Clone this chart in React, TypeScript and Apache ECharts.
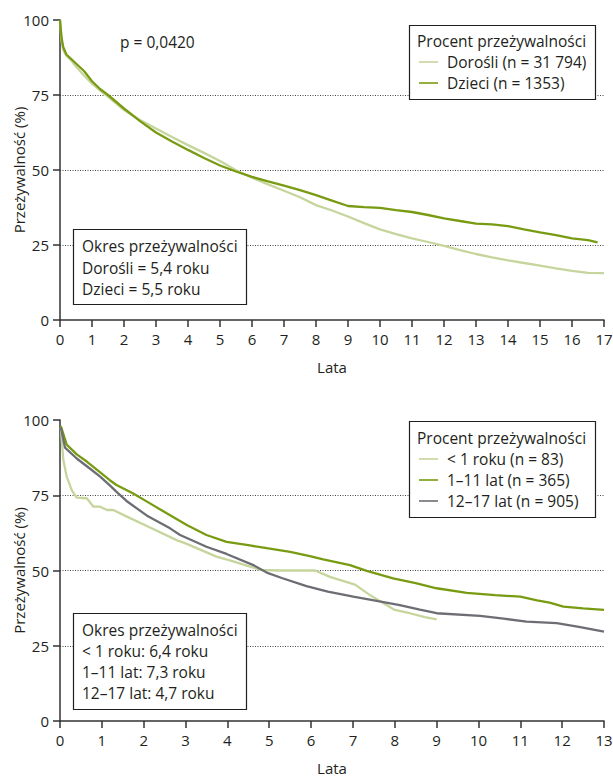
import React, { useEffect, useRef } from "react";
import * as echarts from "echarts";

// ---------- Data ----------
const topMaxYear = 17;
const bottomMaxYear = 13;

const adultsYears = [0, 0.05, 0.1, 0.2, 0.35, 0.5, 0.75, 1.0, 1.25, 1.5, 2.0, 2.5, 3.0, 3.5, 4.0, 4.5, 5.0, 5.5, 6.0, 6.5, 7.0, 7.5, 8.0, 8.5, 9.0, 9.5, 10, 10.5, 11, 11.5, 12, 12.5, 13, 13.5, 14, 14.5, 15, 15.5, 16, 16.5, 17];
const adultsSurvival = [100, 93, 90, 88, 86.5, 84.5, 81.5, 78.8, 76.5, 74.5, 70, 66.7, 63.8, 61, 58.3, 55.7, 53, 49.9, 47.4, 45.2, 43.1, 40.9, 38.3, 36.5, 34.5, 32.3, 30.2, 28.6, 27.2, 26, 24.7, 23.3, 22, 20.9, 19.9, 19, 18.1, 17.2, 16.4, 15.7, 15.6];

const childrenYears = [0, 0.05, 0.1, 0.2, 0.35, 0.5, 0.75, 1.0, 1.25, 1.5, 2.0, 2.5, 3.0, 3.5, 4.0, 4.5, 5.0, 5.5, 6.0, 6.5, 7.0, 7.5, 8.0, 8.5, 9.0, 9.5, 10, 10.5, 11, 11.5, 12, 12.5, 13, 13.5, 14, 14.5, 15, 15.5, 16, 16.5, 16.8];
const childrenSurvival = [100, 94, 91, 88.5, 87, 85.5, 83, 79.6, 77, 75, 70.5, 66.3, 62.5, 59.5, 56.7, 54, 51.5, 49.5, 47.7, 46.2, 44.8, 43.3, 41.6, 39.8, 38, 37.6, 37.4, 36.6, 36, 35, 33.9, 33, 32.1, 31.9, 31.3, 30.2, 29.2, 28.3, 27.2, 26.6, 25.9];

const infantYears = [0.02, 0.08, 0.16, 0.28, 0.4, 0.64, 0.8, 0.96, 1.12, 1.27, 1.6, 2.1, 2.8, 3.0, 3.74, 4.14, 4.54, 4.8, 5.2, 6.1, 6.45, 7.05, 7.4, 8.0, 8.36, 8.72, 9.0];
const infantSurvival = [97.5, 86.7, 81.2, 76.7, 74.2, 74, 71.2, 71.2, 70.1, 70.1, 67.9, 64.6, 60, 59, 54.6, 53, 51.3, 50.2, 50, 50, 47.9, 45.3, 41.9, 36.9, 35.8, 34.5, 33.8];

const childYears = [0.02, 0.16, 0.4, 0.64, 0.96, 1.19, 1.35, 1.75, 2.15, 2.55, 3.03, 3.5, 3.98, 4.5, 4.94, 5.5, 5.97, 6.29, 6.93, 7.33, 7.96, 8.5, 9.0, 9.72, 10.4, 11.0, 11.4, 11.7, 12.03, 12.5, 13.0];
const childSurvival = [98, 91.8, 88.6, 86.2, 82.6, 80, 78.4, 75.6, 72.3, 69, 65.1, 61.8, 59.5, 58.4, 57.4, 56.2, 54.8, 53.7, 51.8, 49.9, 47.4, 45.8, 44.1, 42.6, 41.8, 41.3, 40.1, 39.3, 38, 37.4, 36.9];

const teenYears = [0.02, 0.12, 0.4, 0.72, 0.96, 1.19, 1.39, 1.59, 2.07, 2.63, 2.87, 3.5, 3.98, 4.62, 4.94, 5.3, 5.89, 6.4, 7.01, 7.6, 8.12, 8.6, 9.0, 10.04, 10.6, 11.15, 11.87, 12.4, 13.0];
const teenSurvival = [97.5, 90.8, 87.2, 83.8, 81.2, 78.3, 75.6, 73.1, 68.3, 64, 61.8, 57.9, 55.5, 51.8, 49.3, 47.5, 44.8, 43, 41.3, 39.8, 38.5, 37, 35.8, 34.9, 34, 33, 32.5, 31.3, 29.7];

const topSeriesNames = ["Dorośli (n = 31 794)", "Dzieci (n = 1353)"];
const bottomSeriesNames = ["< 1 roku (n = 83)", "1–11 lat (n = 365)", "12–17 lat (n = 905)"];
const legendTitle = "Procent przeżywalności";
const topNotes = ["Okres przeżywalności", "Dorośli = 5,4 roku", "Dzieci = 5,5 roku"];
const bottomNotes = ["Okres przeżywalności", "< 1 roku: 6,4 roku", "1–11 lat: 7,3 roku", "12–17 lat: 4,7 roku"];
const pValueText = "p = 0,0420";
const yAxisName = "Przeżywalność (%)";
const xAxisName = "Lata";

// ---------- Styles ----------
const FONT = "Open Sans";
const TXT = "#231f20";
const LIGHT = "#c6d59c";
const DARK = "#789b12";
const GRAY = "#6d6e74";
const AXIS = "#333333";
const BOX_FONT = 15.5;

const zip = (xs: number[], ys: number[]) => xs.map((x, i) => [x, ys[i]]);

function makeXAxis(gridIndex: number, max: number) {
  return {
    type: "value",
    gridIndex,
    min: 0,
    max,
    interval: 1,
    name: xAxisName,
    nameLocation: "middle",
    nameGap: 39,
    nameMoveOverlap: false,
    nameTextStyle: { fontFamily: FONT, fontSize: 15, color: TXT },
    axisLine: { show: true, onZero: false, lineStyle: { color: AXIS, width: 1.5 } },
    axisTick: { show: true, length: 7, lineStyle: { color: AXIS, width: 1.5 } },
    axisLabel: { fontFamily: FONT, fontSize: 15, color: TXT, margin: 11 },
    splitLine: { show: false },
  };
}

function makeYAxis(gridIndex: number) {
  return {
    type: "value",
    gridIndex,
    min: 0,
    max: 100,
    interval: 25,
    name: yAxisName,
    nameLocation: "middle",
    nameGap: 34,
    nameMoveOverlap: false,
    nameTextStyle: { fontFamily: FONT, fontSize: 15, color: TXT },
    axisLine: { show: true, lineStyle: { color: AXIS, width: 1.5 } },
    axisTick: { show: true, length: 7, lineStyle: { color: AXIS, width: 1.5 } },
    axisLabel: { fontFamily: FONT, fontSize: 15, color: TXT, margin: 11 },
    splitLine: {
      show: true,
      showMinLine: false,
      showMaxLine: false,
      lineStyle: { color: "#444", width: 1, type: [1, 1.5] },
    },
  };
}

function lineSeries(name: string, data: number[][], color: string, idx: number, z: number) {
  return {
    type: "line",
    name,
    xAxisIndex: idx,
    yAxisIndex: idx,
    data,
    symbol: "none",
    smooth: false,
    z,
    lineStyle: { color, width: 2.3 },
    itemStyle: { color },
  };
}

function textEl(text: string, x: number, y: number) {
  return {
    type: "text",
    x,
    y,
    z: 12,
    style: { text, fontFamily: FONT, fontSize: BOX_FONT, fill: TXT, verticalAlign: "middle", align: "left" },
  };
}

function boxEl(x: number, y: number, w: number, h: number) {
  return {
    type: "rect",
    z: 10,
    shape: { x, y, width: w, height: h },
    style: { fill: "#ffffff", stroke: TXT, lineWidth: 1.2 },
  };
}

function makeLegend(names: string[], top: number) {
  return {
    data: names.map((n) => ({ name: n, icon: "rect" })),
    orient: "vertical",
    left: 419,
    top,
    z: 20,
    itemWidth: 19,
    itemHeight: 1.6,
    itemGap: 0,
    padding: 0,
    selectedMode: false,
    textStyle: { fontFamily: FONT, fontSize: BOX_FONT, color: TXT, lineHeight: 21, padding: [0, 0, 0, 4] },
  };
}

export default function App() {
  const ref = useRef<HTMLDivElement>(null);

  useEffect(() => {
    if (!ref.current) return;
    const chart = echarts.init(ref.current, null, { renderer: "svg" });
    const option: any = {
      animation: false,
      backgroundColor: "#ffffff",
      grid: [
        { left: 60, right: 9, top: 20, height: 300, outerBoundsMode: "none", containLabel: false },
        { left: 60, right: 9, top: 420, height: 301, outerBoundsMode: "none", containLabel: false },
      ],
      xAxis: [makeXAxis(0, topMaxYear), makeXAxis(1, bottomMaxYear)],
      yAxis: [makeYAxis(0), makeYAxis(1)],
      legend: [makeLegend(topSeriesNames, 51.5), makeLegend(bottomSeriesNames, 448.5)],
      series: [
        lineSeries(topSeriesNames[0], zip(adultsYears, adultsSurvival), LIGHT, 0, 2),
        lineSeries(topSeriesNames[1], zip(childrenYears, childrenSurvival), DARK, 0, 3),
        lineSeries(bottomSeriesNames[0], zip(infantYears, infantSurvival), LIGHT, 1, 2),
        lineSeries(bottomSeriesNames[1], zip(childYears, childSurvival), DARK, 1, 3),
        lineSeries(bottomSeriesNames[2], zip(teenYears, teenSurvival), GRAY, 1, 4),
      ],
      graphic: [
        textEl(pValueText, 120, 42),
        boxEl(409.5, 25.5, 186, 74),
        textEl(legendTitle, 417, 41),
        boxEl(73.5, 229.5, 173, 75),
        ...topNotes.map((t, i) => textEl(t, 82, 246 + i * 21.5)),
        boxEl(409.5, 421.5, 186, 96),
        textEl(legendTitle, 417, 438),
        boxEl(73.5, 613.5, 173, 96),
        ...bottomNotes.map((t, i) => textEl(t, 82, 630 + i * 21)),
      ],
    };
    chart.setOption(option);
    return () => chart.dispose();
  }, []);

  return (
    <div
      ref={ref}
      style={{ position: "absolute", left: 0, top: 0, width: 613, height: 777, background: "#fff" }}
    />
  );
}
